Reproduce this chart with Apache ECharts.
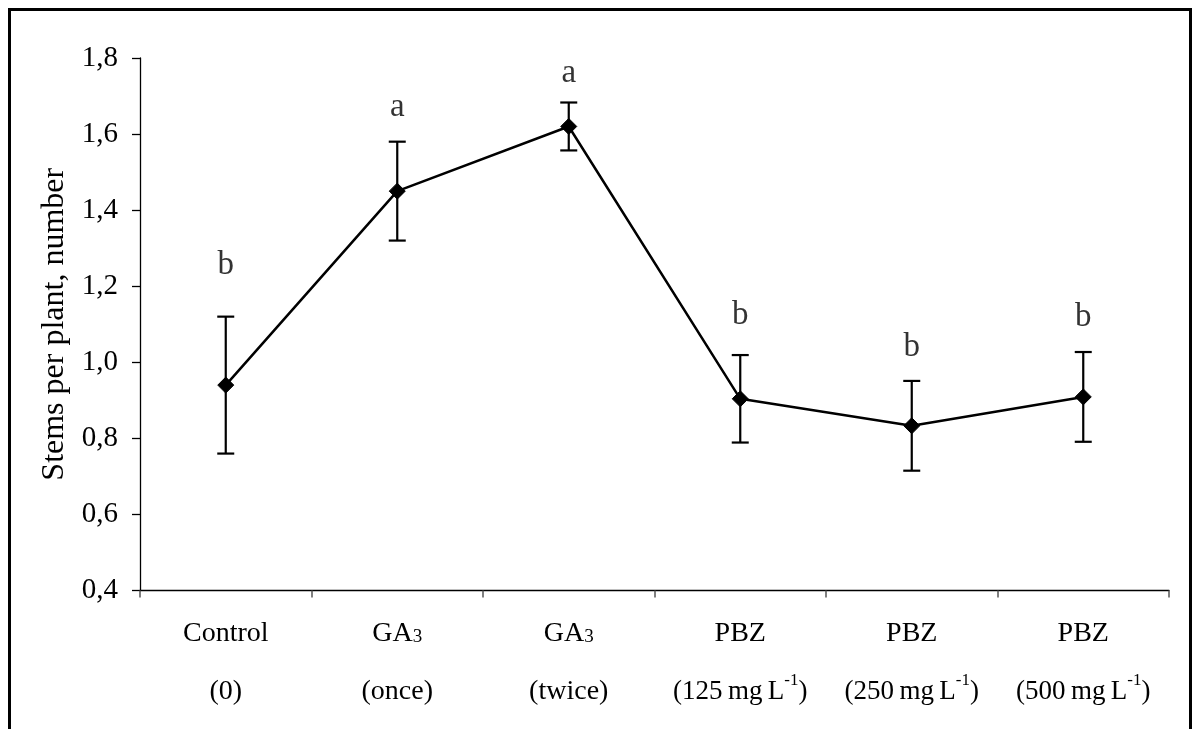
<!DOCTYPE html>
<html>
<head>
<meta charset="utf-8">
<script src="https://cdn.jsdelivr.net/npm/echarts@6/dist/echarts.min.js"></script>
<style>
html, body { margin: 0; padding: 0; background: #fff; }
#chart { width: 1193px; height: 729px; }
</style>
</head>
<body>
<div id="chart"></div>
<script>
// ---- data ----
const categories = ['Control (0)', 'GA3 (once)', 'GA3 (twice)', 'PBZ (125 mg L-1)', 'PBZ (250 mg L-1)', 'PBZ (500 mg L-1)'];
const labelLine1 = ['Control', 'GA{sub|3}', 'GA{sub|3}', 'PBZ', 'PBZ', 'PBZ'];
const labelLine2 = ['(0)', '(once)', '(twice)', '{n|(125\u2009mg\u2009L}{sup|-1}{n|)}', '{n|(250\u2009mg\u2009L}{sup|-1}{n|)}', '{n|(500\u2009mg\u2009L}{sup|-1}{n|)}'];
const means = [0.94, 1.45, 1.62, 0.904, 0.833, 0.909];
const errors = [0.18, 0.13, 0.063, 0.115, 0.118, 0.118];
const letters = ['b', 'a', 'a', 'b', 'b', 'b'];
const letterY = [1.256, 1.669, 1.761, 1.124, 1.04, 1.119];
const yTicks = { min: 0.4, max: 1.8, interval: 0.2 };
const yTitle = 'Stems per plant, number';

const FONT = '"Liberation Serif", "Times New Roman", serif';

const chart = echarts.init(document.getElementById('chart'), null, { renderer: 'canvas' });

const errData = categories.map((c, i) => [i, means[i] - errors[i], means[i] + errors[i]]);

chart.setOption({
  animation: false,
  backgroundColor: '#fff',
  grid: { left: 140, right: 24, top: 58, bottom: 138.5, containLabel: false },
  xAxis: {
    type: 'category',
    data: categories,
    boundaryGap: true,
    axisLine: { lineStyle: { color: '#000', width: 1.3 } },
    axisTick: { show: true, inside: false, length: 7, alignWithLabel: false, lineStyle: { color: '#555', width: 1.5 } },
    axisLabel: {
      interval: 0,
      margin: 14,
      color: '#000',
      fontFamily: FONT,
      fontSize: 28,
      lineHeight: 58,
      formatter: function (v, i) { return labelLine1[i] + '\n' + labelLine2[i]; },
      rich: {
        n: { fontFamily: FONT, fontSize: 27, color: '#000' },
        sub: { fontFamily: FONT, fontSize: 19, color: '#000', padding: [8, 0, 0, 0] },
        sup: { fontFamily: FONT, fontSize: 17, color: '#000', padding: [0, 0, 22, 0] }
      }
    },
    splitLine: { show: false }
  },
  yAxis: {
    type: 'value',
    min: yTicks.min,
    max: yTicks.max,
    interval: yTicks.interval,
    name: yTitle,
    nameLocation: 'middle',
    nameGap: 68,
    nameTextStyle: { fontFamily: FONT, fontSize: 32, color: '#000' },
    axisLine: { show: true, lineStyle: { color: '#000', width: 1.3 } },
    axisTick: { show: true, inside: false, length: 8, lineStyle: { color: '#000', width: 1.3 } },
    axisLabel: {
      margin: 22,
      color: '#000',
      fontFamily: FONT,
      fontSize: 29,
      formatter: function (v) { return v.toFixed(1).replace('.', ','); }
    },
    splitLine: { show: false }
  },
  series: [
    {
      type: 'custom',
      name: 'err',
      data: errData,
      z: 2,
      renderItem: function (params, api) {
        const idx = api.value(0);
        const lo = api.coord([idx, api.value(1)]);
        const hi = api.coord([idx, api.value(2)]);
        const hw = 8.5;
        const st = { stroke: '#000', lineWidth: 2.2 };
        return {
          type: 'group',
          children: [
            { type: 'line', shape: { x1: hi[0], y1: hi[1], x2: lo[0], y2: lo[1] }, style: st },
            { type: 'line', shape: { x1: hi[0] - hw, y1: hi[1], x2: hi[0] + hw, y2: hi[1] }, style: st },
            { type: 'line', shape: { x1: lo[0] - hw, y1: lo[1], x2: lo[0] + hw, y2: lo[1] }, style: st }
          ]
        };
      }
    },
    {
      type: 'line',
      name: 'mean',
      data: means,
      z: 3,
      symbol: 'diamond',
      symbolSize: 16,
      showAllSymbol: true,
      lineStyle: { color: '#000', width: 2.5 },
      itemStyle: { color: '#000', borderColor: '#000' }
    },
    {
      type: 'scatter',
      name: 'letters',
      data: letters.map((l, i) => [i, letterY[i]]),
      symbolSize: 1,
      itemStyle: { color: 'rgba(0,0,0,0)' },
      z: 4,
      label: {
        show: true,
        position: 'inside',
        color: '#000',
        fontFamily: FONT,
        fontSize: 33,
        formatter: function (p) { return letters[p.dataIndex]; }
      }
    }
  ],
  graphic: [
    {
      type: 'polyline',
      shape: { points: [[9.5, 729], [9.5, 9.5], [1190.5, 9.5], [1190.5, 729]] },
      style: { stroke: '#000', lineWidth: 3, fill: null }
    }
  ]
});
</script>
</body>
</html>
